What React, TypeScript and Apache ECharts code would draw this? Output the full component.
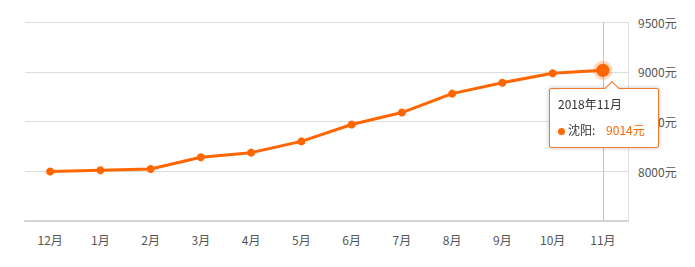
import React, { useEffect, useRef } from "react";
import * as echarts from "echarts";

const categories = ["12月", "1月", "2月", "3月", "4月", "5月", "6月", "7月", "8月", "9月", "10月", "11月"];
const fullLabels = ["2017年12月", "2018年1月", "2018年2月", "2018年3月", "2018年4月", "2018年5月", "2018年6月", "2018年7月", "2018年8月", "2018年9月", "2018年10月", "2018年11月"];
const seriesName = "沈阳";
const values = [7998, 8010, 8023, 8140, 8187, 8300, 8470, 8590, 8780, 8890, 8985, 9014];
const yMin = 7500;
const yMax = 9500;
const yInterval = 500;

const ORANGE = "#ff6600";

export default function App() {
  const ref = useRef<HTMLDivElement>(null);
  useEffect(() => {
    document.body.style.margin = "0";
    const chart = echarts.init(ref.current!, null, { renderer: "svg" });
    const last = values.length - 1;
    chart.setOption({
      animation: false,
      grid: { left: 25, right: 67, top: 22, bottom: 46 },
      tooltip: {
        trigger: "axis",
        alwaysShowContent: true,
        position: () => [549, 88],
        backgroundColor: "#fff",
        borderColor: "#f07a2c",
        borderWidth: 1,
        padding: [2, 8, 4, 8],
        extraCssText: "box-shadow: 0 0 4px rgba(0,0,0,0.25); border-radius: 2px; width: 92px;",
        axisPointer: { type: "none" },
        formatter: (params: any) => {
          const p = Array.isArray(params) ? params[0] : params;
          const i = p.dataIndex;
          return (
            '<div style="position:relative;font-size:12px;color:#333;line-height:26px;white-space:nowrap;font-family:\'Microsoft YaHei\',\'Noto Sans CJK SC\',sans-serif">' +
            '<div style="position:absolute;left:49px;top:-8px;width:9px;height:9px;background:#fff;border-left:1px solid #f07a2c;border-top:1px solid #f07a2c;transform:rotate(45deg)"></div>' +
            fullLabels[i] +
            '<br/><span style="display:inline-block;width:7px;height:7px;border-radius:50%;background:' +
            ORANGE +
            ';margin-right:3px;vertical-align:middle"></span>' +
            seriesName +
            ':&nbsp;&nbsp;&nbsp;&nbsp;<span style="color:' +
            ORANGE +
            '">' +
            values[i] +
            "元</span></div>"
          );
        },
      },
      xAxis: {
        type: "category",
        data: categories,
        boundaryGap: true,
        axisLine: { lineStyle: { color: "#d4d4d4", width: 2 } },
        axisTick: { alignWithLabel: true, length: 4, lineStyle: { color: "#e6e6e6" } },
        axisLabel: { color: "#555", fontSize: 12, margin: 12, fontFamily: "'Noto Sans CJK SC', sans-serif" },
      },
      yAxis: {
        type: "value",
        position: "right",
        min: yMin,
        max: yMax,
        interval: yInterval,
        axisLine: { show: true, lineStyle: { color: "#e0e0e0", width: 1 } },
        axisTick: { show: false },
        splitLine: { lineStyle: { color: "#dddddd", width: 1 } },
        axisLabel: {
          color: "#555",
          fontSize: 12,
          margin: 10,
          fontFamily: "'Noto Sans CJK SC', sans-serif",
          formatter: (v: number) => (v === yMin ? "" : v + "元"),
        },
      },
      series: [
        {
          name: seriesName,
          type: "line",
          z: 10,
          data: values.map((v, i) =>
            i === last
              ? {
                  value: v,
                  symbolSize: 12,
                  itemStyle: { color: ORANGE, borderColor: "rgba(255,102,0,0.25)", borderWidth: 6 },
                }
              : v
          ),
          symbol: "circle",
          symbolSize: 8,
          lineStyle: { color: ORANGE, width: 3 },
          itemStyle: { color: ORANGE },
          emphasis: { disabled: true },
          markLine: {
            z: 1,
            silent: true,
            symbol: "none",
            label: { show: false },
            lineStyle: { color: "#c4c4c4", width: 1, type: "solid" },
            data: [{ xAxis: categories[last] }],
          },
        },
      ],
    });
    chart.dispatchAction({ type: "showTip", seriesIndex: 0, dataIndex: last });
    return () => chart.dispose();
  }, []);
  return <div ref={ref} style={{ width: 695, height: 267 }} />;
}
